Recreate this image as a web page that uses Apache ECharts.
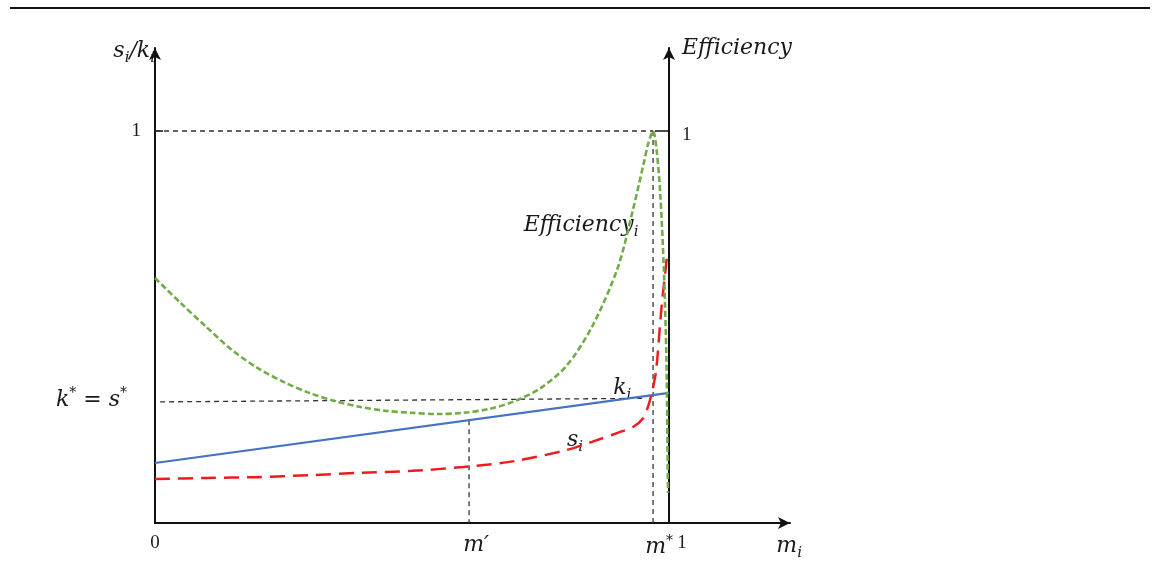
<!DOCTYPE html>
<html><head><meta charset="utf-8">
<script src="https://cdn.jsdelivr.net/npm/echarts@6/dist/echarts.min.js"></script>
<style>html,body{margin:0;padding:0;background:#fff}#c{width:1161px;height:577px}</style>
</head><body><div id="c"></div>
<script>
// ---- data ----
const effX = [0, 0.05, 0.1, 0.15, 0.2, 0.25, 0.3, 0.35, 0.4, 0.45, 0.5, 0.55, 0.6, 0.65, 0.7, 0.75, 0.8, 0.85, 0.9, 0.93, 0.95, 0.96, 0.969, 0.976, 0.983, 0.99, 0.995, 0.998];
const effY = [0.625, 0.561, 0.50, 0.441, 0.395, 0.36, 0.332, 0.311, 0.296, 0.286, 0.281, 0.278, 0.281, 0.291, 0.311, 0.344, 0.40, 0.50, 0.65, 0.80, 0.913, 0.97, 1.0, 0.95, 0.84, 0.645, 0.415, 0.077];
const kX = [0, 1];
const kY = [0.153, 0.332];
const sX = [0, 0.1, 0.2, 0.3, 0.4, 0.5, 0.6, 0.7, 0.8, 0.85, 0.9, 0.93, 0.95, 0.96, 0.968, 0.975, 0.985, 0.996];
const sY = [0.112, 0.115, 0.117, 0.122, 0.128, 0.133, 0.143, 0.158, 0.186, 0.207, 0.23, 0.245, 0.268, 0.30, 0.34, 0.39, 0.543, 0.679];
const mPrime = 0.611;
const mStar = 0.969;
const kStarLeft = 0.309, kStarRight = 0.318, kStarEnd = 0.955;
const xTickValues = [0, mPrime, mStar, 1];
const yTickValues = [0.313, 1];
const effTickValues = [1];
const labelPts = [
  {name: 'eff', value: [0.829, 0.760]},
  {name: 'k', value: [0.909, 0.344]},
  {name: 's', value: [0.817, 0.212]}
];

const zip = (xs, ys) => xs.map((x, i) => [x, ys[i]]);
const FONT_IT = 'DejaVu Serif';
const INK = '#1a1a1a';
const rich = {
  it: {fontFamily: FONT_IT, fontStyle: 'italic', fontSize: 22, color: INK},
  sub: {fontFamily: FONT_IT, fontStyle: 'italic', fontSize: 15, color: INK, padding: [14, 0, 0, 0]},
  sup: {fontFamily: FONT_IT, fontSize: 14, color: INK, padding: [0, 0, 13, 0]},
  n: {fontFamily: 'Liberation Serif', fontSize: 19, color: INK},
  one: {fontFamily: 'Liberation Serif', fontSize: 19, color: INK, padding: [0, 0, 0, 26]},
  mp: {fontFamily: FONT_IT, fontStyle: 'italic', fontSize: 22, color: INK, padding: [0, 0, 0, 14]},
  ms: {fontFamily: FONT_IT, fontStyle: 'italic', fontSize: 22, color: INK, padding: [0, 0, 0, 12]},
  gap: {width: 14, fontSize: 10}
};

const W = 514, H = 392; // px per unit (x, y)
const xMax = 635 / W, yMax = 475 / H;
const dashK = {color: '#333', width: 1.3, type: [5, 4]};

const chart = echarts.init(document.getElementById('c'), null, {renderer: 'canvas'});
chart.setOption({
  animation: false,
  backgroundColor: '#fff',
  graphic: [{
    type: 'line', shape: {x1: 10, y1: 8, x2: 1150, y2: 8},
    style: {stroke: '#111', lineWidth: 2}
  }],
  grid: [
    {left: 155, top: 48, width: 635, height: 475},
    {left: 155, top: 48, width: 514, height: 475}
  ],
  xAxis: [{
    type: 'value', gridIndex: 0, min: 0, max: xMax,
    splitLine: {show: false},
    axisLine: {show: true, onZero: false, symbol: ['none', 'arrow'], symbolSize: [9, 12], lineStyle: {color: '#111', width: 2}},
    axisTick: {show: false},
    axisLabel: {
      customValues: xTickValues, margin: 11,
      formatter: v => v === 0 ? '{n|0}' : (v === mPrime ? '{mp|m′}' : (v === mStar ? '{ms|m}{sup|*}' : '{one|1}')),
      rich: rich
    },
    name: '{it|m}{sub|i}', nameLocation: 'end', nameGap: 12,
    nameTextStyle: {align: 'right', verticalAlign: 'top', padding: [9, 0, 0, 0], rich: rich}
  }, {
    type: 'value', gridIndex: 1, min: 0, max: 1, show: false
  }],
  yAxis: [{
    type: 'value', gridIndex: 0, min: 0, max: yMax,
    splitLine: {show: false},
    axisLine: {show: true, onZero: false, symbol: ['none', 'arrow'], symbolSize: [9, 12], lineStyle: {color: '#111', width: 2}},
    axisTick: {show: true, inside: true, length: 8, customValues: [1], lineStyle: {color: '#111', width: 1.5}},
    axisLabel: {
      customValues: yTickValues, margin: 14,
      formatter: v => v === 1 ? '{n|1}' : '{it|k}{sup|*}{it| = s}{sup|*}{gap| }',
      rich: rich
    },
    name: '{it|s}{sub|i}{it|/k}{sub|i}', nameLocation: 'end', nameGap: 0,
    nameTextStyle: {align: 'right', verticalAlign: 'middle', padding: [6, 0, 0, 0], rich: rich}
  }, {
    type: 'value', gridIndex: 1, min: 0, max: yMax, position: 'right',
    splitLine: {show: false},
    axisLine: {show: true, onZero: false, symbol: ['none', 'arrow'], symbolSize: [9, 12], lineStyle: {color: '#111', width: 2}},
    axisTick: {show: true, inside: true, length: 14, customValues: effTickValues, lineStyle: {color: '#111', width: 1.5}},
    axisLabel: {customValues: effTickValues, margin: 13, formatter: () => '{n|1}', rich: rich, padding: [8, 0, 0, 0]},
    name: '{it|Efficiency}', nameLocation: 'end', nameGap: 0,
    nameTextStyle: {align: 'left', verticalAlign: 'middle', padding: [0, 0, 0, 13], rich: rich}
  }],
  series: [
    {type: 'line', name: 'ref1', xAxisIndex: 0, yAxisIndex: 0, symbol: 'none', lineStyle: dashK,
     data: [[0, 1], [mStar, 1]]},
    {type: 'line', name: 'refMstar', xAxisIndex: 0, yAxisIndex: 0, symbol: 'none', lineStyle: dashK,
     data: [[mStar, 1], [mStar, 0]]},
    {type: 'line', name: 'refK', xAxisIndex: 0, yAxisIndex: 0, symbol: 'none', lineStyle: dashK,
     data: [[0.01, kStarLeft], [kStarEnd, kStarRight]]},
    {type: 'line', name: 'refMprime', xAxisIndex: 0, yAxisIndex: 0, symbol: 'none', lineStyle: dashK,
     data: [[mPrime, kY[0] + (kY[1] - kY[0]) * mPrime], [mPrime, 0]]},
    {type: 'line', name: 'k_i', xAxisIndex: 0, yAxisIndex: 0, symbol: 'none',
     lineStyle: {color: '#4472c4', width: 2.2}, data: zip(kX, kY)},
    {type: 'line', name: 's_i', xAxisIndex: 0, yAxisIndex: 0, symbol: 'none', smooth: 0.3,
     lineStyle: {color: '#ee1c1c', width: 2.5, type: [15, 8]}, data: zip(sX, sY)},
    {type: 'line', name: 'Efficiency_i', xAxisIndex: 1, yAxisIndex: 1, symbol: 'none', smooth: 0.3,
     lineStyle: {color: '#70ad47', width: 2.6, type: [6, 3]}, data: zip(effX, effY)},
    {type: 'scatter', name: 'labels', xAxisIndex: 0, yAxisIndex: 0, symbolSize: 1,
     itemStyle: {color: 'rgba(0,0,0,0)'}, silent: true,
     label: {show: true, position: 'inside', color: INK, textBorderWidth: 0, opacity: 1, rich: rich,
       formatter: p => p.name === 'eff' ? '{it|Efficiency}{sub|i}' : (p.name === 'k' ? '{it|k}{sub|i}' : '{it|s}{sub|i}')},
     data: labelPts}
  ]
});
</script></body></html>
